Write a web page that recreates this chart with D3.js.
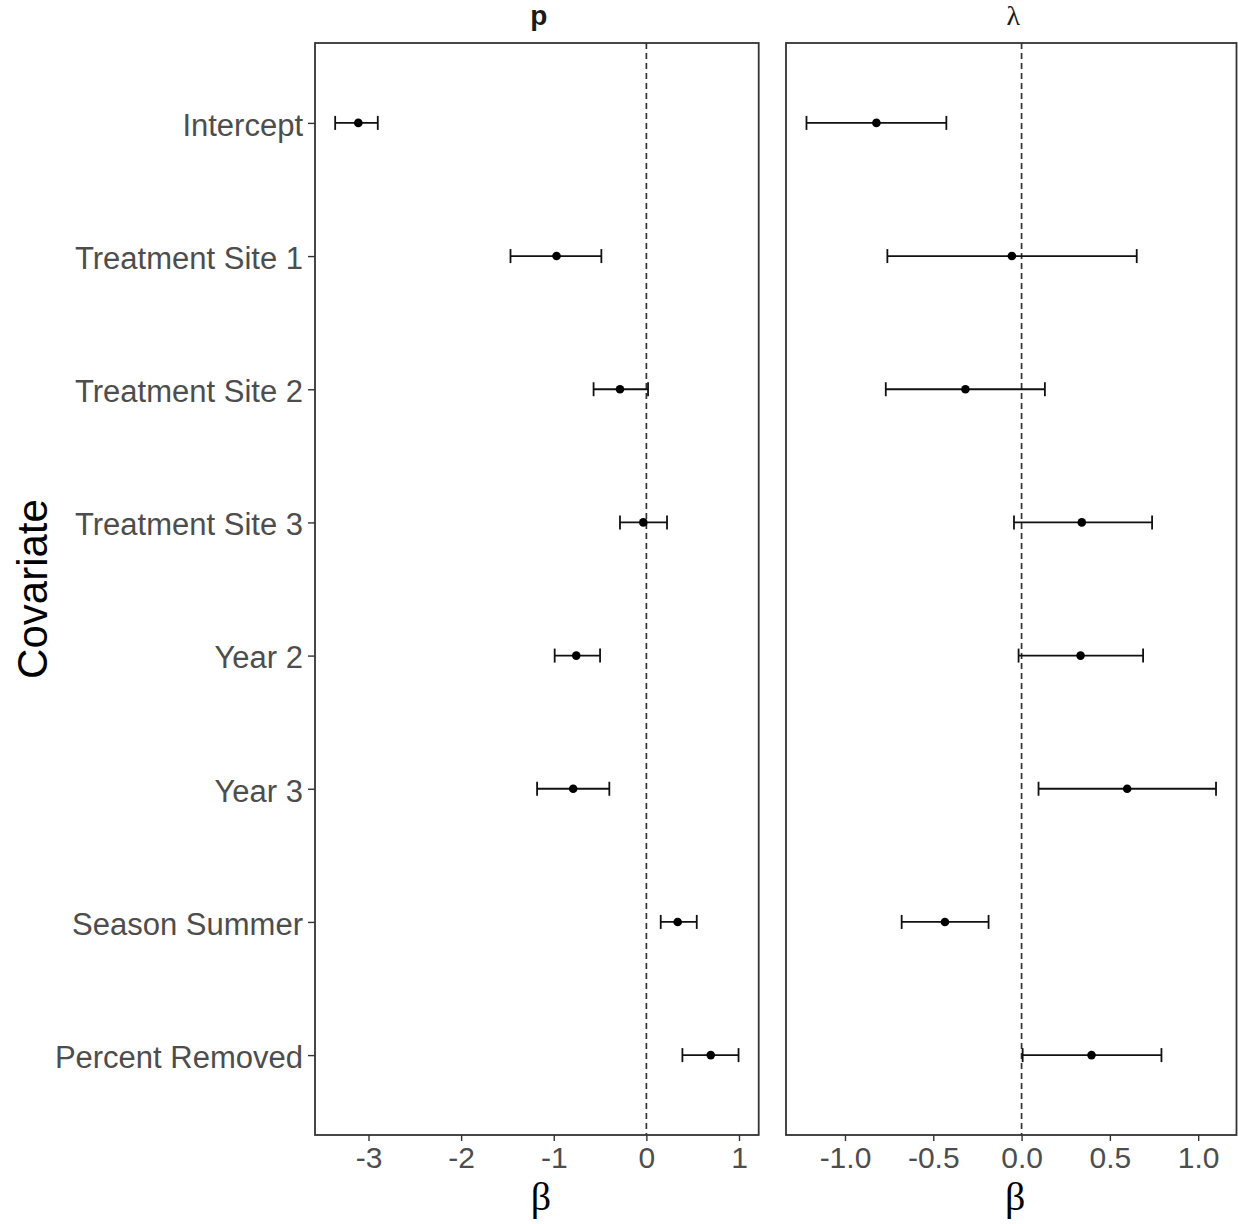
<!DOCTYPE html>
<html>
<head>
<meta charset="utf-8">
<script src="https://cdn.jsdelivr.net/npm/d3@7"></script>
<style>
  body { margin: 0; background: #fff; }
  text { font-family: "Liberation Sans", Arial, sans-serif; }
</style>
</head>
<body>
<div id="chart"></div>
<script>
// Data -------------------------------------------------
const covariates = ["Intercept", "Treatment Site 1", "Treatment Site 2", "Treatment Site 3",
  "Year 2", "Year 3", "Season Summer", "Percent Removed"]

// detection (p)
const pEst  = [-3.11, -0.97, -0.285, -0.033, -0.757, -0.79, 0.338, 0.695]
const pLow  = [-3.36, -1.467, -0.57, -0.285, -0.99, -1.18, 0.155, 0.389]
const pHigh = [-2.90, -0.486, 0.018, 0.223, -0.50, -0.40, 0.544, 0.995]

// abundance (lambda)
const lamEst  = [-0.822, -0.055, -0.318, 0.341, 0.334, 0.598, -0.434, 0.396]
const lamLow  = [-1.218, -0.76, -0.769, -0.043, -0.017, 0.096, -0.679, 0.006]
const lamHigh = [-0.426, 0.652, 0.132, 0.739, 0.688, 1.101, -0.187, 0.792]

const pTicks = [-3, -2, -1, 0, 1]
const lamTicks = [-1.0, -0.5, 0.0, 0.5, 1.0]

// Canvas setup -----------------------------------------
const WIDTH = 1238, HEIGHT = 1224
const TOP = 43, BOTTOM = 1135

const svg = d3.select("#chart").append("svg")
  .attr("width", WIDTH)
  .attr("height", HEIGHT)

const yScale = d3.scalePoint()
  .domain(covariates)
  .range([TOP, BOTTOM])
  .padding(0.6)

// ggplot-style 5% expansion
function expanded(lo, hi){
  const mn = d3.min(lo), mx = d3.max(hi)
  const pad = (mx - mn) * 0.05
  return [mn - pad, mx + pad]
}

// plain hyphen instead of d3's unicode minus
const hyphen = f => v => f(v).replace("−", "-")

const panels = [
  { title: "p", serif: false, x0: 315, x1: 758.7, est: pEst, low: pLow, high: pHigh,
    ticks: pTicks, fmt: hyphen(d3.format("d")) },
  { title: "λ", serif: true, x0: 786, x1: 1236.5, est: lamEst, low: lamLow, high: lamHigh,
    ticks: lamTicks, fmt: hyphen(d3.format(".1f")) }
]

panels.forEach((pn, idx) => {
  const x = d3.scaleLinear()
    .domain(expanded(pn.low, pn.high))
    .range([pn.x0, pn.x1])

  const g = svg.append("g")

  // zero line
  g.append("line")
    .attr("x1", x(0)).attr("x2", x(0))
    .attr("y1", TOP).attr("y2", BOTTOM)
    .attr("stroke", "#333")
    .attr("stroke-width", 1.7)
    .attr("stroke-dasharray", "6,4")

  const rows = covariates.map((c, i) => ({ c, est: pn.est[i], lo: pn.low[i], hi: pn.high[i] }))

  // error bars
  g.selectAll(".bar").data(rows).join("line")
    .attr("x1", d => x(d.lo)).attr("x2", d => x(d.hi))
    .attr("y1", d => yScale(d.c)).attr("y2", d => yScale(d.c))
    .attr("stroke", "#111").attr("stroke-width", 1.8)
  g.selectAll(".capL").data(rows).join("line")
    .attr("x1", d => x(d.lo)).attr("x2", d => x(d.lo))
    .attr("y1", d => yScale(d.c) - 7).attr("y2", d => yScale(d.c) + 7)
    .attr("stroke", "#111").attr("stroke-width", 1.8)
  g.selectAll(".capR").data(rows).join("line")
    .attr("x1", d => x(d.hi)).attr("x2", d => x(d.hi))
    .attr("y1", d => yScale(d.c) - 7).attr("y2", d => yScale(d.c) + 7)
    .attr("stroke", "#111").attr("stroke-width", 1.8)

  g.selectAll("circle").data(rows).join("circle")
    .attr("cx", d => x(d.est))
    .attr("cy", d => yScale(d.c))
    .attr("r", 4.3)
    .attr("fill", "#000")

  // panel border
  g.append("rect")
    .attr("x", pn.x0).attr("y", TOP)
    .attr("width", pn.x1 - pn.x0).attr("height", BOTTOM - TOP)
    .attr("fill", "none")
    .attr("stroke", "#333")
    .attr("stroke-width", 1.8)

  // x axis
  const xAxis = d3.axisBottom(x)
    .tickValues(pn.ticks)
    .tickFormat(pn.fmt)
    .tickSize(6)
    .tickPadding(6)
  const ax = g.append("g")
    .attr("transform", `translate(0,${BOTTOM})`)
    .call(xAxis)
  ax.select(".domain").remove()
  ax.selectAll(".tick line").attr("stroke", "#333").attr("stroke-width", 1.4)
  ax.selectAll(".tick text")
    .attr("fill", "#4d4d4d")
    .style("font-size", "30px")
    .style("font-family", "'Liberation Sans', Arial, sans-serif")

  // x title
  g.append("text")
    .attr("x", (pn.x0 + pn.x1) / 2 + 4)
    .attr("y", 1210)
    .attr("text-anchor", "middle")
    .style("font-family", "'Liberation Serif', 'Times New Roman', serif")
    .style("font-size", "40px")
    .attr("fill", "#000")
    .text("β")

  // strip title
  g.append("text")
    .attr("x", (pn.x0 + pn.x1) / 2 + 2)
    .attr("y", 25)
    .attr("text-anchor", "middle")
    .style("font-family", pn.serif ? "'Liberation Serif', serif" : "'Liberation Sans', Arial, sans-serif")
    .style("font-size", "28px")
    .style("font-weight", pn.serif ? "normal" : "bold")
    .attr("fill", "#1a1a1a")
    .text(pn.title)

  // y axis only on left panel
  if (idx === 0) {
    const yAxis = d3.axisLeft(yScale).tickSize(7).tickPadding(5)
    const ay = g.append("g")
      .attr("transform", `translate(${pn.x0},0)`)
      .call(yAxis)
    ay.select(".domain").remove()
    ay.selectAll(".tick line").attr("stroke", "#333").attr("stroke-width", 1.4)
    ay.selectAll(".tick text")
      .attr("fill", "#4d4d4d")
      .attr("dy", "0.4em")
      .style("font-size", "31px")
      .style("font-family", "'Liberation Sans', Arial, sans-serif")
  }
})

// y title
svg.append("text")
  .attr("transform", `translate(47,${(TOP + BOTTOM) / 2}) rotate(-90)`)
  .attr("text-anchor", "middle")
  .style("font-size", "42px")
  .attr("fill", "#000")
  .text("Covariate")
</script>
</body>
</html>
